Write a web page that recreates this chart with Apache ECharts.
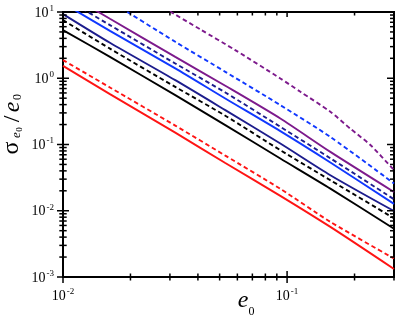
<!DOCTYPE html>
<html><head><meta charset="utf-8">
<script src="https://cdn.jsdelivr.net/npm/echarts@6/dist/echarts.min.js"></script>
<style>html,body{margin:0;padding:0;background:#fff}#c{width:399px;height:318px}</style>
</head><body><div id="c"></div>
<script>
// ---- data ----
const xs = [0.01, 0.0162, 0.0317, 0.053, 0.0933, 0.156, 0.3];
const redSolid    = [1.54, 0.575, 0.151, 0.0525, 0.0168, 0.0057, 0.00132];
const redDash     = [1.88, 0.726, 0.193, 0.068, 0.0214, 0.0068, 0.0019];
const blackSolid  = [5.33, 2.10, 0.556, 0.196, 0.0615, 0.0216, 0.00535];
const blackDash   = [7.55, 2.80, 0.741, 0.272, 0.082, 0.0289, 0.0077];
const navySolid   = [9.29, 3.43, 0.935, 0.330, 0.1035, 0.0344, 0.0099];
const blueSolid   = [13.6, 5.2, 1.41, 0.495, 0.159, 0.0535, 0.0127];
const navyDash    = [16.7, 6.34, 1.67, 0.610, 0.185, 0.062, 0.0149];
const purpleSolid = [20.6, 7.9, 2.10, 0.770, 0.247, 0.0773, 0.0192];
const blueDash    = [38, 14.5, 3.55, 1.25, 0.393, 0.130, 0.0258];
const purpleDashX = [0.03, 0.041, 0.0587, 0.0933, 0.1147, 0.156, 0.192, 0.236, 0.3];
const purpleDash  = [10.2, 5.46, 2.66, 0.993, 0.624, 0.312, 0.172, 0.0975, 0.041];

const X_MIN = 0.01, X_MAX = 0.3, Y_MIN = 0.001, Y_MAX = 10;
const xMajorTicks = [0.01, 0.1];
const xMinorTicks = [0.02,0.03,0.04,0.05,0.06,0.07,0.08,0.09,0.2,0.3];
const yMajorTicks = [0.001, 0.01, 0.1, 1, 10];
const yMinorTicks = [];
[0.001, 0.01, 0.1, 1].forEach(d => { for (let k = 2; k <= 9; k++) yMinorTicks.push(+(k * d).toPrecision(3)); });

const SERIF = '"Liberation Serif", "Times New Roman", serif';
const pairs = (x, y) => x.map((v, i) => [v, y[i]]);

function lineSeries(name, x, y, color, dashed) {
  return {
    name, type: 'line', data: pairs(x, y), showSymbol: false, symbol: 'none',
    clip: true, smooth: 0.25, silent: true,
    lineStyle: { color, width: 1.9, type: dashed ? [4.5, 3] : 'solid' }
  };
}

const RED = '#ff1414', BLACK = '#000000', NAVY = '#1c1c8c', BLUE = '#1038ff', PURPLE = '#7d1a8c';

const supLabel = v => {
  const l = Math.log10(v);
  const e = Math.round(l);
  if (Math.abs(l - e) > 1e-6) return '';
  return '{b|10}{s|' + e + '}';
};
const labelRich = {
  b: { fontSize: 14, fontFamily: SERIF, color: '#000', verticalAlign: 'bottom', lineHeight: 16 },
  s: { fontSize: 9, fontFamily: SERIF, color: '#000', verticalAlign: 'top', lineHeight: 16, padding: [0, 0, 0, 1] }
};

const titleGraphics = [
  // x-axis title: e0
  { type: 'text', x: 243, y: 301, style: { text: 'e', font: 'italic 24px ' + SERIF, fill: '#000', align: 'center', verticalAlign: 'middle' } },
  { type: 'text', x: 251.5, y: 312, style: { text: '0', font: '12px ' + SERIF, fill: '#000', align: 'center', verticalAlign: 'middle' } },
  // y-axis title: σ_{e0}/e0 (rotated)
  { type: 'text', x: 12, y: 148, rotation: Math.PI / 2, style: { text: 'σ', font: '24px ' + SERIF, fill: '#000', align: 'center', verticalAlign: 'middle' } },
  { type: 'text', x: 17, y: 135, rotation: Math.PI / 2, style: { text: 'e', font: 'italic 13px ' + SERIF, fill: '#000', align: 'center', verticalAlign: 'middle' } },
  { type: 'text', x: 20, y: 129.5, rotation: Math.PI / 2, style: { text: '0', font: '9px ' + SERIF, fill: '#000', align: 'center', verticalAlign: 'middle' } },
  { type: 'text', x: 13, y: 119, rotation: Math.PI / 2, style: { text: '/', font: '24px ' + SERIF, fill: '#000', align: 'center', verticalAlign: 'middle' } },
  { type: 'text', x: 13, y: 107, rotation: Math.PI / 2, style: { text: 'e', font: 'italic 24px ' + SERIF, fill: '#000', align: 'center', verticalAlign: 'middle' } },
  { type: 'text', x: 18, y: 97, rotation: Math.PI / 2, style: { text: '0', font: '12px ' + SERIF, fill: '#000', align: 'center', verticalAlign: 'middle' } }
];

const chart = echarts.init(document.getElementById('c'), null, { renderer: 'canvas' });
chart.setOption({
  animation: false,
  backgroundColor: '#fff',
  grid: { left: 63, right: 5, top: 12, bottom: 41, show: true, borderColor: '#000', borderWidth: 2, backgroundColor: 'transparent' },
  xAxis: {
    type: 'log', logBase: 10, min: X_MIN, max: X_MAX,
    axisLine: { show: false }, axisTick: { show: false }, splitLine: { show: false },
    axisLabel: { formatter: supLabel, rich: labelRich, margin: 10, color: '#000', showMaxLabel: false }
  },
  yAxis: {
    type: 'log', logBase: 10, min: Y_MIN, max: Y_MAX,
    axisLine: { show: false }, axisTick: { show: false }, splitLine: { show: false },
    axisLabel: { formatter: supLabel, rich: labelRich, margin: 9, color: '#000' }
  },
  series: [
    lineSeries('red', xs, redSolid, RED, false),
    lineSeries('red dashed', xs, redDash, RED, true),
    lineSeries('black', xs, blackSolid, BLACK, false),
    lineSeries('black dashed', xs, blackDash, BLACK, true),
    lineSeries('navy', xs, navySolid, NAVY, false),
    lineSeries('blue', xs, blueSolid, BLUE, false),
    lineSeries('navy dashed', xs, navyDash, NAVY, true),
    lineSeries('purple', xs, purpleSolid, PURPLE, false),
    lineSeries('blue dashed', xs, blueDash, BLUE, true),
    lineSeries('purple dashed', purpleDashX, purpleDash, PURPLE, true)
  ],
  graphic: titleGraphics
});

// ---- tick marks, positioned through the chart's own log scales ----
function tick(x1, y1, x2, y2) {
  return { type: 'line', z: 100, silent: true, shape: { x1, y1, x2, y2 }, style: { stroke: '#000', lineWidth: 1.5 } };
}
const tickGraphics = [];
const toPx = p => chart.convertToPixel({ gridIndex: 0 }, p);
xMajorTicks.concat(xMinorTicks).forEach(v => {
  const major = xMajorTicks.indexOf(v) >= 0;
  const pb = toPx([v, Y_MIN]), pt = toPx([v, Y_MAX]);
  const L = major ? 6 : 3.5;
  tickGraphics.push(tick(pb[0], pb[1] - L, pb[0], pb[1] + L));
  tickGraphics.push(tick(pt[0], pt[1], pt[0], pt[1] + (major ? 5 : 3.5)));
});
yMajorTicks.concat(yMinorTicks).forEach(v => {
  const major = yMajorTicks.indexOf(v) >= 0;
  const pl = toPx([X_MIN, v]), pr = toPx([X_MAX, v]);
  const L = major ? 6 : 3.7;
  tickGraphics.push(tick(pl[0] - L, pl[1], pl[0] + L, pl[1]));
  tickGraphics.push(tick(pr[0] - (major ? 7 : 4), pr[1], pr[0], pr[1]));
});
chart.setOption({ graphic: titleGraphics.concat(tickGraphics) });
</script>
</body></html>
